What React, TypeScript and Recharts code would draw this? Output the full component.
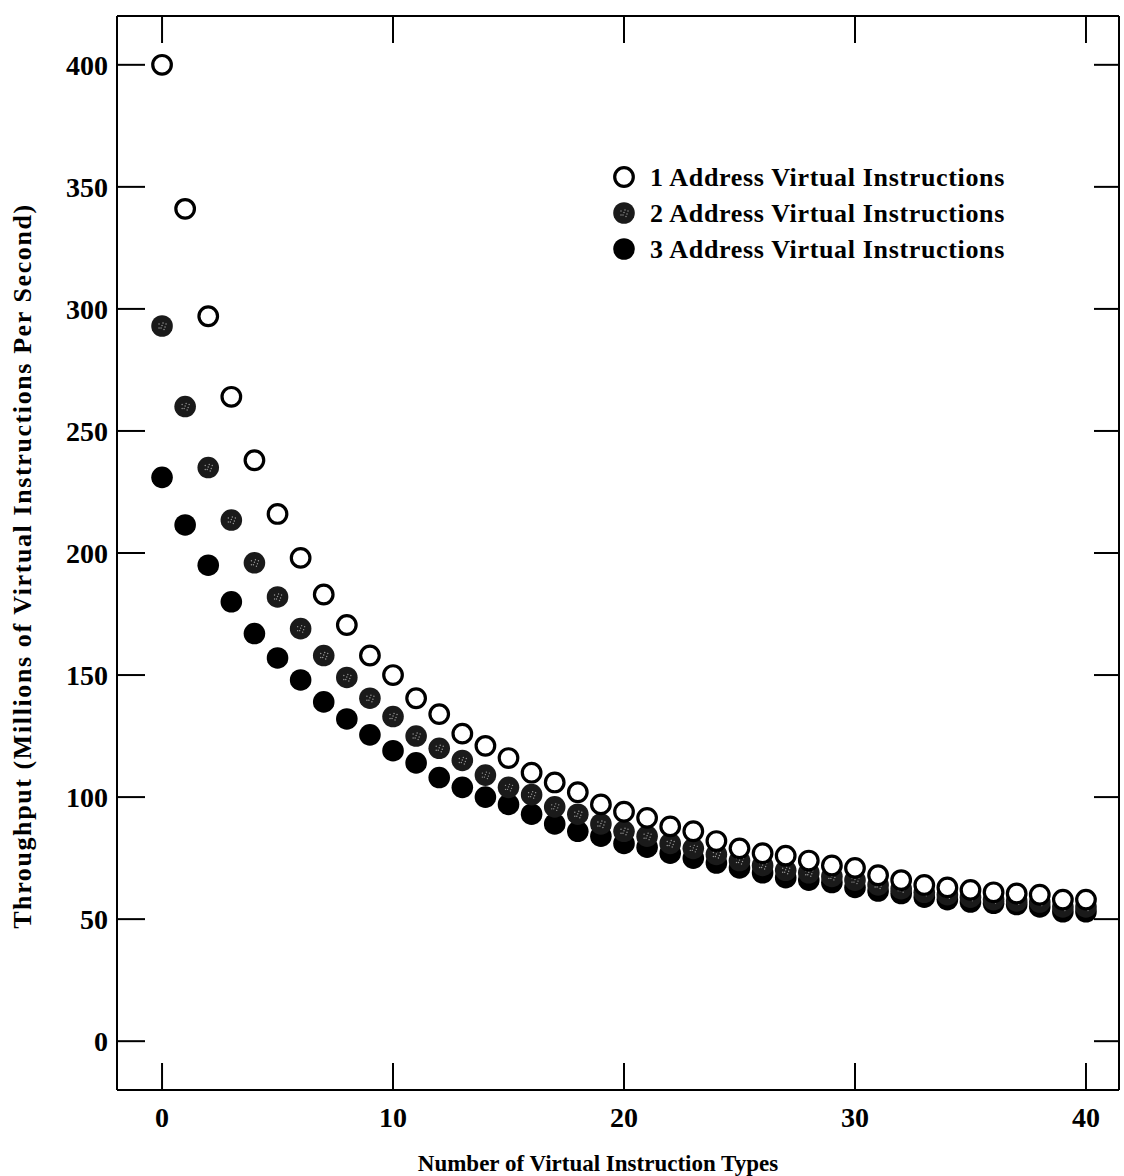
import React from 'react';
import { ScatterChart, Scatter, XAxis, YAxis, Legend, Label } from 'recharts';

// ---- data ----
const instructionTypes = [
  0, 1, 2, 3, 4, 5, 6, 7, 8, 9, 10, 11, 12, 13, 14, 15, 16, 17, 18, 19, 20,
  21, 22, 23, 24, 25, 26, 27, 28, 29, 30, 31, 32, 33, 34, 35, 36, 37, 38, 39, 40,
];
const oneAddress = [
  400, 341, 297, 264, 238, 216, 198, 183, 170.5, 158, 150, 140.5, 134, 126, 121, 116, 110, 106, 102, 97, 94,
  91.5, 88, 86, 82, 79, 77, 76, 74, 72, 71, 68, 66, 64, 63, 62, 61, 60.5, 60, 58, 58,
];
const twoAddress = [
  293, 260, 235, 213.5, 196, 182, 169, 158, 149, 140.5, 133, 125, 120, 115, 109, 104, 101, 96, 93, 89, 86,
  84, 81, 79, 76.5, 74, 72, 70, 69, 67.5, 66, 64, 62.5, 61, 60, 59, 58, 57.5, 57, 55, 55,
];
const threeAddress = [
  231, 211.5, 195, 180, 167, 157, 148, 139, 132, 125.5, 119, 114, 108, 104, 100, 97, 93, 89, 86, 84, 81,
  79.5, 77, 75, 73, 71, 69, 67, 66, 65, 63, 61.5, 60.5, 59, 58, 57, 56.5, 56, 55, 53, 53,
];
const seriesNames = [
  '1 Address Virtual Instructions',
  '2 Address Virtual Instructions',
  '3 Address Virtual Instructions',
];
const xTicks = [0, 10, 20, 30, 40];
const yTicks = [0, 50, 100, 150, 200, 250, 300, 350, 400];
const xTitle = 'Number of Virtual Instruction Types';
const yTitle = 'Throughput (Millions of Virtual Instructions Per Second)';

const toPoints = (ys: number[]) => instructionTypes.map((x, i) => ({ x, y: ys[i] }));
const onePts = toPoints(oneAddress);
const twoPts = toPoints(twoAddress);
const threePts = toPoints(threeAddress);

const FONT = '"Liberation Serif", "Times New Roman", serif';
const X_DOMAIN: [number, number] = [-1.95, 41.43];
const Y_DOMAIN: [number, number] = [-20, 420];

const speckles = [
  [-3, -2], [1, -3], [3, 1], [-1, 2], [0, -0.5], [-3, 2], [2, 3.5], [4, -2],
];

const OpenDot = (p: any) => (
  <circle cx={p.cx} cy={p.cy} r={9.3} fill="#ffffff" stroke="#000000" strokeWidth={3.2} />
);
const ShadedDot = (p: any) => (
  <g>
    <circle cx={p.cx} cy={p.cy} r={10.8} fill="#1a1a1a" />
    {speckles.map(([dx, dy], i) => (
      <circle key={i} cx={p.cx + dx} cy={p.cy + dy} r={0.7} fill="#9a9a9a" />
    ))}
  </g>
);
const SolidDot = (p: any) => <circle cx={p.cx} cy={p.cy} r={10.8} fill="#000000" />;

const LegendBox = () => {
  const rows = [OpenDot, ShadedDot, SolidDot];
  return (
    <svg width={470} height={120} style={{ overflow: 'visible' }}>
      {rows.map((Dot, i) => (
        <g key={i}>
          <Dot cx={24} cy={17 + i * 36} />
          <text
            x={50}
            y={17 + i * 36}
            dominantBaseline="central"
            fontFamily={FONT}
            fontWeight="bold"
            fontSize={26}
            letterSpacing={0.65}
            fill="#000"
          >
            {seriesNames[i]}
          </text>
        </g>
      ))}
    </svg>
  );
};

const XTitle = (props: any) => {
  const vb = props.viewBox || {};
  return (
    <text
      x={vb.x + vb.width / 2 - 20}
      y={vb.y + 73}
      textAnchor="middle"
      dominantBaseline="central"
      fontFamily={FONT}
      fontWeight="bold"
      fontSize={23}
      fill="#000"
    >
      {xTitle}
    </text>
  );
};

const YTitle = (props: any) => {
  const vb = props.viewBox || {};
  const cx = vb.x + vb.width - 95;
  const cy = vb.y + vb.height / 2 + 13;
  return (
    <text
      x={cx}
      y={cy}
      transform={`rotate(-90, ${cx}, ${cy})`}
      textAnchor="middle"
      dominantBaseline="central"
      fontFamily={FONT}
      fontWeight="bold"
      fontSize={26}
      letterSpacing={1.6}
      fill="#000"
    >
      {yTitle}
    </text>
  );
};

const axisLine = { stroke: '#000', strokeWidth: 2 };
const tickLine = { stroke: '#000', strokeWidth: 2 };
const tickStyle = { fill: '#000', fontSize: 28, fontWeight: 'bold', fontFamily: FONT };

export default function App() {
  return (
    <div style={{ position: 'absolute', left: 0, top: 0, width: 1124, height: 1176, background: '#fff' }}>
      <ScatterChart width={1124} height={1176} margin={{ top: 15, right: 4, bottom: 85, left: 116 }}>
        <XAxis
          xAxisId="bottom"
          type="number"
          dataKey="x"
          orientation="bottom"
          domain={X_DOMAIN}
          allowDataOverflow
          ticks={xTicks}
          interval={0}
          height={1}
          tickSize={-27}
          tickMargin={44}
          axisLine={axisLine}
          tickLine={tickLine}
          tick={tickStyle}
        >
          <Label content={XTitle} />
        </XAxis>
        <XAxis
          xAxisId="top"
          type="number"
          dataKey="x"
          orientation="top"
          domain={X_DOMAIN}
          allowDataOverflow
          ticks={xTicks}
          interval={0}
          height={1}
          tickSize={-27}
          tickFormatter={() => ''}
          axisLine={axisLine}
          tickLine={tickLine}
        />
        <YAxis
          yAxisId="left"
          type="number"
          dataKey="y"
          orientation="left"
          domain={Y_DOMAIN}
          allowDataOverflow
          ticks={yTicks}
          interval={0}
          width={1}
          tickSize={-28}
          tickMargin={37}
          axisLine={axisLine}
          tickLine={tickLine}
          tick={tickStyle}
        >
          <Label content={YTitle} />
        </YAxis>
        <YAxis
          yAxisId="right"
          type="number"
          dataKey="y"
          orientation="right"
          domain={Y_DOMAIN}
          allowDataOverflow
          ticks={yTicks}
          interval={0}
          width={1}
          tickSize={-25}
          tickFormatter={() => ''}
          axisLine={axisLine}
          tickLine={tickLine}
        />
        <Legend
          layout="vertical"
          align="center"
          verticalAlign="middle"
          content={LegendBox}
          wrapperStyle={{ position: 'absolute', left: 600, top: 160, width: 470, height: 120 }}
        />
        <Scatter
          name={seriesNames[2]}
          data={threePts}
          xAxisId="bottom"
          yAxisId="left"
          shape={SolidDot}
          isAnimationActive={false}
        />
        <Scatter
          name={seriesNames[1]}
          data={twoPts}
          xAxisId="bottom"
          yAxisId="left"
          shape={ShadedDot}
          isAnimationActive={false}
        />
        <Scatter
          name={seriesNames[0]}
          data={onePts}
          xAxisId="bottom"
          yAxisId="left"
          shape={OpenDot}
          isAnimationActive={false}
        />
      </ScatterChart>
    </div>
  );
}
